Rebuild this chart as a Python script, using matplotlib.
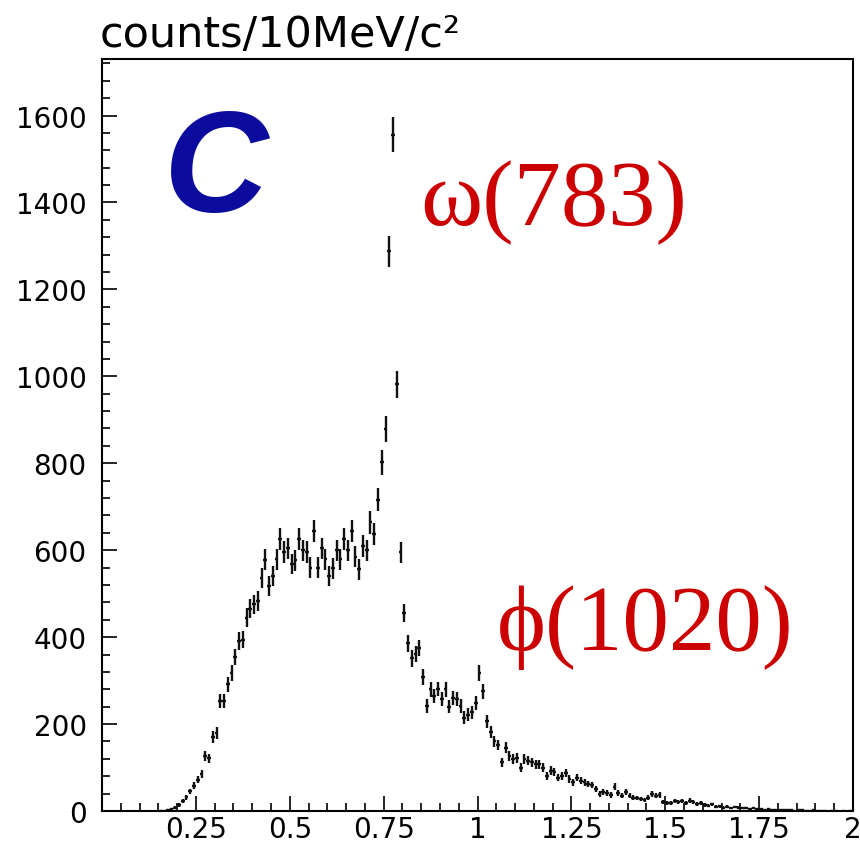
import numpy as np
import matplotlib
matplotlib.use("Agg")
import matplotlib.pyplot as plt
from matplotlib.ticker import MultipleLocator, FixedLocator

# Invariant-mass histogram, 10 MeV bins; counts start at bin 15 (0.15-0.16 GeV)
bin_width = 0.01
first_bin = 15
counts = [
    1, 1, 2, 4, 8, 14, 22, 32, 45, 58,                      # 0.15-0.24
    72, 85, 126, 121, 170, 179, 254, 254, 292, 318,         # 0.25-0.34
    354, 391, 394, 445, 465, 476, 483, 537, 578, 517,       # 0.35-0.44
    541, 579, 625, 596, 604, 568, 577, 625, 600, 596,       # 0.45-0.54
    560, 644, 560, 604, 579, 541, 558, 600, 579, 625,       # 0.55-0.64
    600, 644, 585, 556, 610, 600, 664, 637, 716, 802,       # 0.65-0.74
    878, 1288, 1556, 982, 595, 455, 386, 351, 361, 375,     # 0.75-0.84
    308, 242, 280, 265, 281, 258, 280, 240, 261, 257,       # 0.85-0.94
    242, 215, 221, 227, 248, 318, 275, 206, 181, 160,       # 0.95-1.04
    152, 112, 146, 127, 120, 122, 100, 120, 116, 112,       # 1.05-1.14
    108, 108, 100, 81, 93, 89, 77, 81, 87, 74,              # 1.15-1.24
    66, 77, 70, 66, 62, 60, 51, 39, 43, 41,                 # 1.25-1.34
    37, 56, 41, 35, 43, 35, 31, 30, 28, 25,                 # 1.35-1.44
    31, 39, 35, 37, 20, 18, 18, 22, 20, 22,                 # 1.45-1.54
    18, 24, 20, 16, 18, 14, 12, 15, 10, 11,                 # 1.55-1.64
    8, 10, 7, 9, 8, 6, 7, 5, 6, 4,                          # 1.65-1.74
    5, 3, 4, 3, 2, 3, 2, 2, 3, 1,                           # 1.75-1.84
    2, 2, 1, 1, 2, 1, 1, 1, 0, 1,                           # 1.85-1.94
    1, 0, 1, 0, 1,                                          # 1.95-1.99
]

x_major = [0.25, 0.5, 0.75, 1.0, 1.25, 1.5, 1.75, 2.0]
x_labels = ["0.25", "0.5", "0.75", "1", "1.25", "1.5", "1.75", "2"]
y_major = [0, 200, 400, 600, 800, 1000, 1200, 1400, 1600]

W, H = 860, 845
fig = plt.figure(figsize=(W / 100, H / 100), dpi=100)
left, right, bottom, top = 102, 853, 812, 60
ax = fig.add_axes([left / W, 1 - bottom / H, (right - left) / W, (bottom - top) / H])

n = np.asarray(counts, dtype=float)
centers = (np.arange(len(n)) + first_bin + 0.5) * bin_width
keep = n > 0
ax.errorbar(centers[keep], n[keep], yerr=np.sqrt(n[keep]), xerr=bin_width / 2,
            fmt="none", ecolor="#111111", elinewidth=1.7, capsize=0)

ax.set_xlim(0, 2)
ax.set_ylim(0, 1730)

ax.xaxis.set_major_locator(FixedLocator(x_major))
ax.set_xticklabels(x_labels)
ax.xaxis.set_minor_locator(MultipleLocator(0.05))
ax.yaxis.set_major_locator(FixedLocator(y_major))
ax.yaxis.set_minor_locator(MultipleLocator(40))

for s in ax.spines.values():
    s.set_linewidth(1.5)
    s.set_color("black")

ax.tick_params(which="both", direction="in", top=False, right=False,
               labelsize=20, width=1.2, colors="black")
ax.tick_params(which="major", length=10.5)
ax.tick_params(which="minor", length=5.5)
ax.tick_params(axis="y", pad=11)
ax.tick_params(axis="x", pad=3)
for lab in ax.get_xticklabels() + ax.get_yticklabels():
    lab.set_family("DejaVu Sans")

fig.text(100 / W, 1 - 47 / H, "counts/10MeV/c\u00b2", fontsize=31,
         family="DejaVu Sans", ha="left", va="baseline")

fig.text(216 / W, 1 - 212 / H, "C", fontsize=104, color="#0B0B9E",
         family="Liberation Sans", fontweight="bold", fontstyle="italic",
         ha="center", va="baseline")

fig.text(420 / W, 1 - 225 / H, "\u03c9(783)", fontsize=68, color="#CC0000",
         family=["Liberation Serif", "DejaVu Serif"], ha="left", va="baseline")
fig.text(497 / W, 1 - 650 / H, "\u03d5(1020)", fontsize=67, color="#CC0000",
         family=["Liberation Serif", "DejaVu Serif"], ha="left", va="baseline")

fig.savefig("out.png", dpi=100)
